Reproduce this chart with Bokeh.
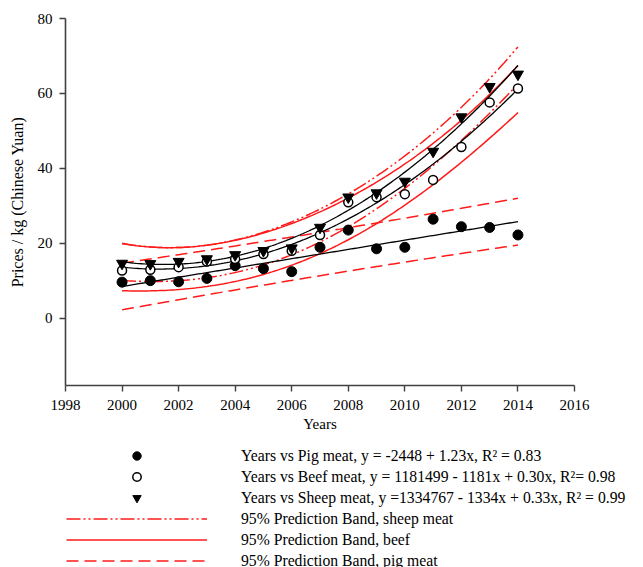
import numpy as np
from bokeh.plotting import figure
from bokeh.layouts import column
from bokeh.models import Range1d, Legend, LegendItem, FixedTicker
from bokeh.embed import file_html
from bokeh.resources import INLINE

# ---- data ----
years = [2000, 2001, 2002, 2003, 2004, 2005, 2006, 2007, 2008, 2009, 2010, 2011, 2012, 2013, 2014]
pig = [9.6, 10.0, 9.7, 10.6, 14.0, 13.2, 12.4, 18.9, 23.5, 18.5, 18.9, 26.4, 24.4, 24.2, 22.2]
beef = [12.7, 12.9, 13.6, 15.1, 15.8, 17.1, 18.0, 22.2, 30.9, 32.3, 33.1, 36.9, 45.7, 57.6, 61.3]
sheep = [14.6, 14.5, 15.1, 15.8, 16.9, 18.0, 18.7, 24.2, 32.3, 33.4, 36.5, 44.5, 53.7, 61.8, 65.1]

x_ticks = [1998, 2000, 2002, 2004, 2006, 2008, 2010, 2012, 2014, 2016]
y_ticks = [0, 20, 40, 60, 80]

labels = [
    "Years vs Pig meat, y = -2448 + 1.23x, R\u00b2 = 0.83",
    "Years vs Beef meat, y = 1181499 - 1181x + 0.30x, R\u00b2= 0.98",
    "Years vs Sheep meat, y =1334767 - 1334x + 0.33x, R\u00b2 = 0.99",
    "95% Prediction Band, sheep meat",
    "95% Prediction Band, beef",
    "95% Prediction Band, pig meat",
]

FONT = "Liberation Serif"
RED = "#ff1a1a"
DASH_PIG = "12 6"
DASH_SHEEP = "14 3 2 3 2 3"


def fit_band(x, y, deg, t):
    x = np.asarray(x, float)
    y = np.asarray(y, float)
    X = np.vander(x - 2007.0, deg + 1)
    beta, *_ = np.linalg.lstsq(X, y, rcond=None)
    resid = y - X @ beta
    s2 = resid @ resid / (len(y) - (deg + 1))
    XtXi = np.linalg.inv(X.T @ X)
    xs = np.linspace(x.min(), x.max(), 141)
    Xs = np.vander(xs - 2007.0, deg + 1)
    yh = Xs @ beta
    se = np.sqrt(s2 * (1 + np.einsum("ij,jk,ik->i", Xs, XtXi, Xs)))
    return xs, yh, yh - t * se, yh + t * se


xs, yp, lp, up = fit_band(years, pig, 1, 2.1604)
_, yb, lb, ub = fit_band(years, beef, 2, 2.1788)
_, ysh, lsh, ush = fit_band(years, sheep, 2, 2.1788)

# ---------------- main chart ----------------
p = figure(width=643, height=440, output_backend="svg", toolbar_location=None,
           x_range=Range1d(1998, 2016), y_range=Range1d(-18, 80),
           min_border_left=65, min_border_right=69, min_border_top=18, min_border_bottom=55)
p.outline_line_color = None
p.xgrid.visible = False
p.ygrid.visible = False
p.frame_align = False


def draw(fig):
    rp = fig.line(xs, up, line_color=RED, line_width=1.5, line_dash=DASH_PIG)
    fig.line(xs, lp, line_color=RED, line_width=1.5, line_dash=DASH_PIG)
    rb = fig.line(xs, ub, line_color=RED, line_width=1.5)
    fig.line(xs, lb, line_color=RED, line_width=1.5)
    rs = fig.line(xs, ush, line_color=RED, line_width=1.5, line_dash=DASH_SHEEP)
    fig.line(xs, lsh, line_color=RED, line_width=1.5, line_dash=DASH_SHEEP)
    fig.line(xs, yp, line_color="black", line_width=1.3)
    fig.line(xs, yb, line_color="black", line_width=1.3)
    fig.line(xs, ysh, line_color="black", line_width=1.3)
    m1 = fig.scatter(years, pig, marker="circle", size=10, fill_color="black", line_color="black")
    m2 = fig.scatter(years, beef, marker="circle", size=9, fill_color="white", line_color="black", line_width=1.5)
    m3 = fig.scatter(years, sheep, marker="inverted_triangle", size=11, fill_color="black", line_color="black")
    return m1, m2, m3, rs, rb, rp


draw(p)

for ax in (p.xaxis[0], p.yaxis[0]):
    ax.axis_line_color = "#404040"
    ax.axis_line_width = 1.6
    ax.major_tick_line_color = "#404040"
    ax.major_tick_line_width = 1.4
    ax.major_tick_out = 6
    ax.major_tick_in = 0
    ax.minor_tick_line_color = None
    ax.major_label_text_font = FONT
    ax.major_label_text_font_size = "15px"
    ax.major_label_text_color = "black"
    ax.axis_label_text_font = FONT
    ax.axis_label_text_font_size = "16px"
    ax.axis_label_text_font_style = "normal"
    ax.axis_label_text_color = "black"

p.xaxis[0].ticker = FixedTicker(ticks=x_ticks)
p.yaxis[0].ticker = FixedTicker(ticks=y_ticks)
p.xaxis[0].axis_label = "Years"
p.xaxis[0].axis_label_text_font_size = "15px"
p.yaxis[0].axis_label = "Prices / kg (Chinese Yuan)"
p.xaxis[0].major_label_standoff = 8
p.xaxis[0].axis_label_standoff = 3
p.yaxis[0].major_label_standoff = 7
p.yaxis[0].axis_label_standoff = 9

# ---------------- legend strip ----------------
q = figure(width=643, height=127, output_backend="svg", toolbar_location=None,
           x_range=Range1d(1998, 2016), y_range=Range1d(1000, 1001),
           x_axis_location=None, y_axis_location=None,
           min_border_left=0, min_border_right=0, min_border_top=0, min_border_bottom=0)
q.outline_line_color = None
q.xgrid.visible = False
q.ygrid.visible = False
q.frame_align = False
renderers = draw(q)  # same series, kept outside the visible range; used as legend keys

legend = Legend(
    items=[LegendItem(label=lab, renderers=[r]) for lab, r in zip(labels, renderers)],
    location=(66, -4),
    glyph_width=141, glyph_height=21, label_height=21, spacing=0,
    label_standoff=34, padding=0, margin=0,
    border_line_alpha=0, background_fill_alpha=0,
    label_text_font=FONT, label_text_font_size="15.7px", label_text_color="black",
)
q.add_layout(legend, "center")

layout = column(p, q, spacing=0)
open("out.html", "w").write(file_html(layout, INLINE))
